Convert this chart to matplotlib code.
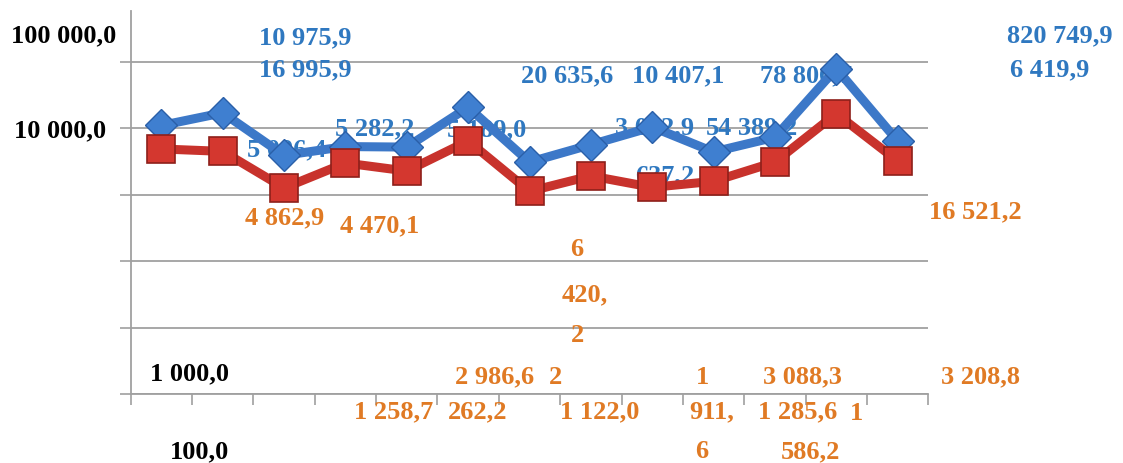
import matplotlib
matplotlib.use("Agg")
import matplotlib.pyplot as plt

# values (log scale), 13 periods
periods = list(range(13))
blue_values = [10975.9, 16995.9, 3900.0, 5282.2, 5189.0, 20635.6, 3082.9,
               5637.2, 10407.1, 4389.2, 7300.0, 78806.7, 6419.9]
red_values = [4862.9, 4470.1, 1258.7, 2986.6, 2262.2, 6420.2, 1122.0,
              1911.6, 1285.6, 1586.2, 3088.3, 16521.2, 3208.8]

# data labels as they appear (scattered) in the original picture
blue_texts = ["10 975,9", "16 995,9", "5 096,4", "5 282,2", "5 189,0", "20 635,6",
              "10 407,1", "3 082,9", "637,2", "5", "4 389,2", "78 806,7",
              "820 749,9", "6 419,9"]
orange_texts = ["4 862,9", "4 470,1", "6", "420,", "2", "2 986,6", "2",
                "1 258,7", "262,2", "1 122,0", "1", "911,", "6", "3 088,3",
                "1 285,6", "1", "586,2", "16 521,2", "3 208,8"]
axis_texts = ["100 000,0", "10 000,0", "1 000,0", "100,0"]

# pixel positions (centre) of those labels
blue_pos = [(305, 38), (305, 70), (287, 150), (375, 129), (487, 130), (567, 76),
            (678, 76), (655, 128), (665, 176), (712, 128), (758, 128), (806, 76),
            (1060, 36), (1050, 70)]
orange_pos = [(285, 218), (380, 226), (577, 250), (585, 295), (577, 335),
              (495, 377), (556, 377), (394, 412), (478, 412), (600, 412),
              (702, 377), (712, 412), (702, 451), (802, 377), (798, 412),
              (857, 414), (810, 452), (975, 212), (980, 377)]
axis_pos = [(64, 36), (60, 131), (190, 374), (200, 452)]

W, H = 1123, 463
BLUE = "#3C78C8"
BLUE_TXT = "#2F78C0"
RED = "#C8322C"
ORANGE = "#E07A24"
SERIF = "Liberation Serif"


def px(x, y):
    return x / W, 1 - y / H


fig = plt.figure(figsize=(W / 100, H / 100), dpi=100)
ax = fig.add_axes([130.7 / W, 1 - 394 / H, (928.3 - 130.7) / W, (394 - 10.7) / H])

ax.set_yscale("log")
ax.set_ylim(1, 10 ** 5.767)
ax.set_xlim(-0.5, 12.5)

ax.plot(periods, blue_values, color=BLUE, lw=6.5, marker="D", ms=16,
        markerfacecolor="#3F7FD0", markeredgecolor="#2A5FA8", markeredgewidth=1,
        zorder=3, solid_joinstyle="miter")
ax.plot(periods, red_values, color=RED, lw=6.5, marker="s", ms=20,
        markerfacecolor="#D4372F", markeredgecolor="#8E1F1A", markeredgewidth=1.2,
        zorder=4, solid_joinstyle="miter")

# grid and axes
ax.set_yticks([10 ** k for k in range(0, 6)])
ax.set_yticks([], minor=True)
ax.set_yticklabels([])
ax.set_xticks([i - 0.5 for i in range(14)])
ax.set_xticklabels([])
ax.grid(axis="y", color="#a0a0a0", lw=1.3)
ax.set_axisbelow(True)
ax.tick_params(axis="y", length=8, color="#a0a0a0", width=1.2)
ax.tick_params(axis="x", length=8, color="#a0a0a0", width=1.2)
for side in ["top", "right"]:
    ax.spines[side].set_visible(False)
for side in ["left", "bottom"]:
    ax.spines[side].set_color("#a0a0a0")
    ax.spines[side].set_linewidth(1.3)

for t, (x, y) in zip(blue_texts, blue_pos):
    ax.text(*px(x, y), t, transform=fig.transFigure, ha="center", va="center",
            color=BLUE_TXT, fontsize=19, fontweight="bold", family=SERIF, zorder=2)
for t, (x, y) in zip(orange_texts, orange_pos):
    ax.text(*px(x, y), t, transform=fig.transFigure, ha="center", va="center",
            color=ORANGE, fontsize=19, fontweight="bold", family=SERIF, zorder=2)
for t, (x, y) in zip(axis_texts, axis_pos):
    fig.text(*px(x, y), t, ha="center", va="center", color="black",
             fontsize=19, fontweight="bold", family=SERIF)

fig.savefig("out.png", dpi=100)
